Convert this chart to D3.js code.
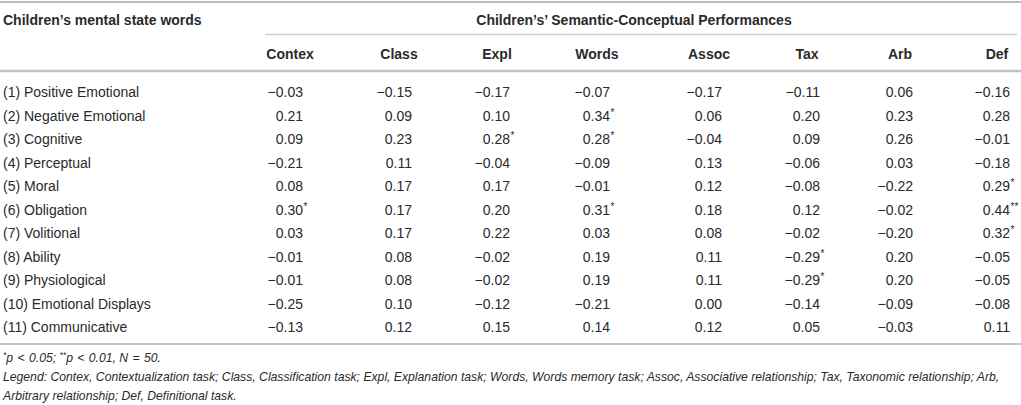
<!DOCTYPE html>
<html>
<head>
<meta charset="utf-8">
<script src="https://cdn.jsdelivr.net/npm/d3@7"></script>
<style>
  body { margin: 0; background: #fff; }
  text { font-family: "Liberation Sans", Arial, sans-serif; fill: #2a2a2a; }
</style>
</head>
<body>
<svg width="1021" height="405"></svg>
<script>
// table data
const columns = ["Contex", "Class", "Expl", "Words", "Assoc", "Tax", "Arb", "Def"];
const rowLabels = [
    "(1) Positive Emotional", "(2) Negative Emotional", "(3) Cognitive", "(4) Perceptual",
    "(5) Moral", "(6) Obligation", "(7) Volitional", "(8) Ability", "(9) Physiological",
    "(10) Emotional Displays", "(11) Communicative"
];
const values = [
    [-0.03, -0.15, -0.17, -0.07, -0.17, -0.11,  0.06, -0.16],
    [ 0.21,  0.09,  0.10,  0.34,  0.06,  0.20,  0.23,  0.28],
    [ 0.09,  0.23,  0.28,  0.28, -0.04,  0.09,  0.26, -0.01],
    [-0.21,  0.11, -0.04, -0.09,  0.13, -0.06,  0.03, -0.18],
    [ 0.08,  0.17,  0.17, -0.01,  0.12, -0.08, -0.22,  0.29],
    [ 0.30,  0.17,  0.20,  0.31,  0.18,  0.12, -0.02,  0.44],
    [ 0.03,  0.17,  0.22,  0.03,  0.08, -0.02, -0.20,  0.32],
    [-0.01,  0.08, -0.02,  0.19,  0.11, -0.29,  0.20, -0.05],
    [-0.01,  0.08, -0.02,  0.19,  0.11, -0.29,  0.20, -0.05],
    [-0.25,  0.10, -0.12, -0.21,  0.00, -0.14, -0.09, -0.08],
    [-0.13,  0.12,  0.15,  0.14,  0.12,  0.05, -0.03,  0.11]
];
const stars = [
    ["", "", "", "", "", "", "", ""],
    ["", "", "", "*", "", "", "", ""],
    ["", "", "*", "*", "", "", "", ""],
    ["", "", "", "", "", "", "", ""],
    ["", "", "", "", "", "", "", "*"],
    ["*", "", "", "*", "", "", "", "**"],
    ["", "", "", "", "", "", "", "*"],
    ["", "", "", "", "", "*", "", ""],
    ["", "", "", "", "", "*", "", ""],
    ["", "", "", "", "", "", "", ""],
    ["", "", "", "", "", "", "", ""]
];
const rowHeader = "Children\u2019s mental state words";
const groupHeader = "Children\u2019s\u2019 Semantic-Conceptual Performances";
const legendLines = [
    "Legend: Contex, Contextualization task; Class, Classification task; Expl, Explanation task; Words, Words memory task; Assoc, Associative relationship; Tax, Taxonomic relationship; Arb,",
    "Arbitrary relationship; Def, Definitional task."
];

const svg = d3.select("svg");
const width = +svg.attr("width");
const fmt = d3.format(".2f");

// right edge of the numbers in each column
const x = d3.scaleOrdinal().domain(columns)
    .range([303, 412, 510, 610, 722, 820, 913, 1010]);
const y = d3.scaleLinear().domain([0, rowLabels.length - 1]).range([92, 327]);

const rule = (x1, x2, yy, w, c) => svg.append("line")
    .attr("x1", x1).attr("x2", x2).attr("y1", yy).attr("y2", yy)
    .attr("stroke", c).attr("stroke-width", w);

rule(0, width, 2, 2, "#bdbdbd");
rule(265, 1017, 34.5, 1.5, "#cfcfcf");
rule(0, width, 71, 2.5, "#c4c4c4");
rule(0, width, 344, 2, "#c4c4c4");

svg.append("text")
    .attr("x", 3).attr("y", 25)
    .attr("font-size", 14).attr("font-weight", "bold")
    .text(rowHeader);

svg.append("text")
    .attr("x", 634).attr("y", 25)
    .attr("text-anchor", "middle")
    .attr("font-size", 14).attr("font-weight", "bold")
    .text(groupHeader);

svg.selectAll(".colhead")
    .data(columns)
    .join("text")
    .attr("class", "colhead")
    .attr("x", d => x(d) - 13)
    .attr("y", 59)
    .attr("text-anchor", "middle")
    .attr("font-size", 14).attr("font-weight", "bold")
    .text(d => d);

svg.selectAll(".rowlabel")
    .data(rowLabels)
    .join("text")
    .attr("class", "rowlabel")
    .attr("x", 3)
    .attr("y", (d, i) => y(i) + 5)
    .attr("font-size", 14)
    .text(d => d);

const cells = [];
values.forEach((row, i) => row.forEach((v, j) => cells.push({i, col: columns[j], v, s: stars[i][j]})));

const cell = svg.selectAll(".cell")
    .data(cells)
    .join("g")
    .attr("class", "cell")
    .attr("transform", d => `translate(${x(d.col)},${y(d.i) + 5})`);

cell.append("text")
    .attr("text-anchor", "end")
    .attr("font-size", 14)
    .text(d => fmt(d.v));

cell.filter(d => d.s)
    .append("text")
    .attr("x", 0.5).attr("y", -5)
    .attr("font-size", 10)
    .text(d => d.s);

// footnotes
const note = svg.append("text")
    .attr("x", 3).attr("y", 362)
    .attr("font-size", 12.2).attr("font-style", "italic");
note.append("tspan").attr("font-size", 8.5).attr("dy", -4).text("*");
note.append("tspan").attr("dy", 4).text("p\u00a0\u200a<\u00a0\u200a0.05;\u00a0");
note.append("tspan").attr("font-size", 8.5).attr("dy", -4).text("**");
note.append("tspan").attr("dy", 4).text("p\u00a0\u200a<\u00a0\u200a0.01, N\u00a0\u200a=\u00a0\u200a50.");

svg.selectAll(".legend")
    .data(legendLines)
    .join("text")
    .attr("class", "legend")
    .attr("x", 3)
    .attr("y", (d, i) => 381 + i * 18.5)
    .attr("font-size", 12.2).attr("font-style", "italic")
    .text(d => d);
</script>
</body>
</html>
